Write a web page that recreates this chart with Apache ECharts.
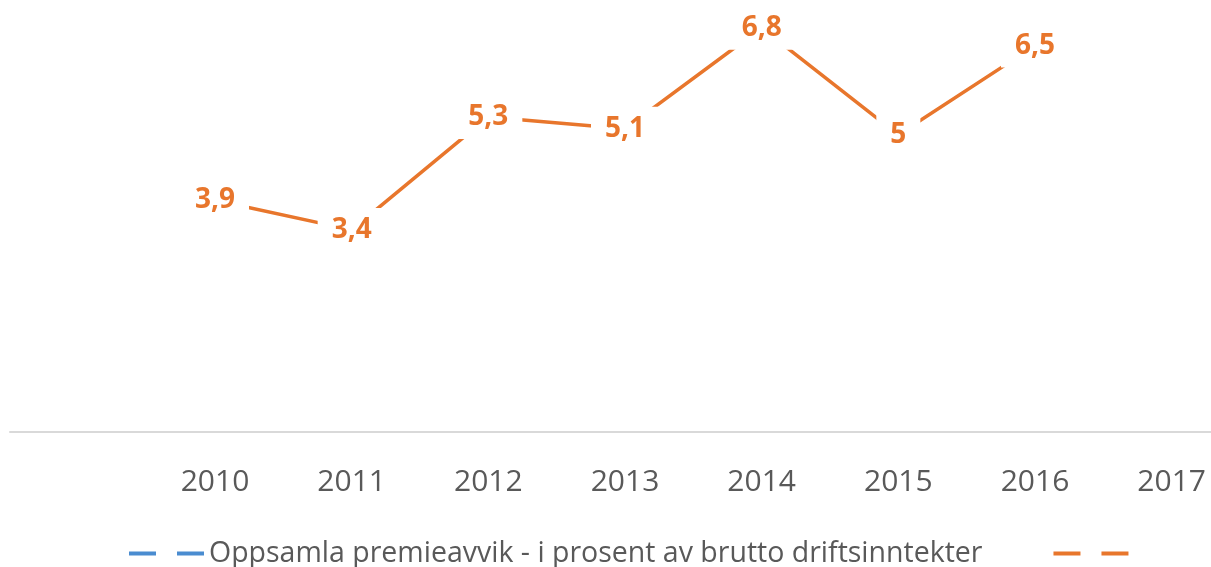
<!DOCTYPE html>
<html>
<head>
<meta charset="utf-8">
<script src="https://cdn.jsdelivr.net/npm/echarts@6/dist/echarts.min.js"></script>
<style>
  html, body { margin: 0; padding: 0; background: #fff; }
  #chart { width: 1211px; height: 567px; }
</style>
</head>
<body>
<div id="chart"></div>
<script>
// first band has no label (cut off on the left in the original)
const years = ["", "2010", "2011", "2012", "2013", "2014", "2015", "2016", "2017"];
const premieavvik = [null, null, null, null, null, null, null, null, null];
const premieavvikPst = [null, 3.9, 3.4, 5.3, 5.1, 6.8, 5.0, 6.5, null];

const blueName = "Oppsamla premieavvik - i prosent av brutto driftsinntekter";
const orangeName = " ";

const chart = echarts.init(document.getElementById("chart"));

const option = {
  animation: false,
  textStyle: { fontFamily: "Open Sans" },
  // plot runs past the right edge, like the cropped original
  grid: { left: 10, width: 1230, top: 4, height: 428, outerBoundsMode: "none", containLabel: false },
  xAxis: {
    type: "category",
    data: years,
    boundaryGap: true,
    axisLine: { lineStyle: { color: "#D9D9D9", width: 2 } },
    axisTick: { show: false },
    axisLabel: { color: "#595959", fontSize: 30, margin: 35, interval: 0 }
  },
  yAxis: {
    type: "value",
    min: 0,
    max: 7.2,
    show: false,
    splitLine: { show: false }
  },
  legend: {
    left: 127,
    top: 539,
    padding: 0,
    itemWidth: 75,
    itemHeight: 14,
    itemGap: 69,
    textStyle: { color: "#595959", fontSize: 28.5 },
    lineStyle: { type: [27, 21], width: 4 },
    data: [blueName, orangeName]
  },
  series: [
    {
      name: blueName,
      type: "line",
      symbol: "circle",
      symbolSize: 0,
      showSymbol: false,
      color: "#4A8CD0",
      itemStyle: { color: "rgba(0,0,0,0)" },
      lineStyle: { width: 3.5, color: "#4A8CD0" },
      data: premieavvik
    },
    {
      name: orangeName,
      type: "line",
      symbol: "circle",
      symbolSize: 0,
      showSymbol: true,
      color: "#E8762C",
      itemStyle: { color: "rgba(0,0,0,0)" },
      lineStyle: { width: 3.5, color: "#E8762C" },
      label: {
        show: true,
        position: "inside",
        color: "#E8762C",
        fontSize: 28,
        fontWeight: "bold",
        backgroundColor: "#fff",
        padding: [8, 14],
        formatter: (p) => String(p.value).replace(".", ",")
      },
      data: premieavvikPst
    }
  ]
};

chart.setOption(option);
</script>
</body>
</html>
